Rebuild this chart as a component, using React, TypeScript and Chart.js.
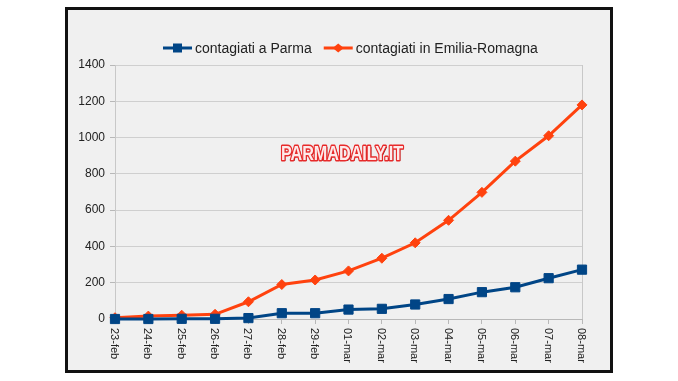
import React, { useEffect, useRef } from 'react';
import { Chart, registerables } from 'chart.js';
Chart.register(...registerables);

const categories = ['23-feb', '24-feb', '25-feb', '26-feb', '27-feb', '28-feb', '29-feb', '01-mar', '02-mar', '03-mar', '04-mar', '05-mar', '06-mar', '07-mar', '08-mar'];
const parma = [0, 0, 1, 1, 5, 32, 32, 52, 56, 80, 110, 148, 175, 225, 272];
const emilia = [7, 16, 21, 26, 95, 190, 215, 265, 335, 420, 544, 698, 870, 1010, 1180];
const seriesNames = ['contagiati a Parma', 'contagiati in Emilia-Romagna'];
const seriesColors = ['#004586', '#ff420e'];
const seriesMarkers = ['rect', 'rectRot'];
const yMin = 0;
const yMax = 1400;
const yStep = 200;
const watermark = 'PARMADAILY.IT';

const FONT = '"Liberation Sans", Arial, Helvetica, sans-serif';

function drawMarker(ctx: CanvasRenderingContext2D, style: string, x: number, y: number, color: string) {
  ctx.fillStyle = color;
  ctx.beginPath();
  if (style === 'rect') {
    ctx.rect(x - 4.5, y - 4.5, 9, 9);
  } else {
    ctx.moveTo(x - 5.5, y);
    ctx.lineTo(x, y - 4.5);
    ctx.lineTo(x + 5.5, y);
    ctx.lineTo(x, y + 4.5);
    ctx.closePath();
  }
  ctx.fill();
}

const customPlugin = {
  id: 'customDraw',
  afterDraw(chart: any) {
    const ctx: CanvasRenderingContext2D = chart.ctx;
    const xs = chart.scales.x;
    const area = chart.chartArea;
    ctx.save();
    // x tick labels rotated clockwise
    ctx.font = `11px ${FONT}`;
    ctx.fillStyle = '#222';
    ctx.textAlign = 'left';
    ctx.textBaseline = 'middle';
    xs.ticks.forEach((t: any, i: number) => {
      const x = xs.getPixelForTick(i);
      ctx.save();
      ctx.translate(x - 1, area.bottom + 9);
      ctx.rotate(Math.PI / 2);
      ctx.fillText(xs.getLabelForValue(t.value), 0, 0);
      ctx.restore();
    });
    // legend
    ctx.font = `14px ${FONT}`;
    ctx.textBaseline = 'middle';
    let lx = 95;
    const ly = 38;
    seriesNames.forEach((name, i) => {
      const color = seriesColors[i];
      ctx.strokeStyle = color;
      ctx.lineWidth = 3;
      ctx.beginPath();
      ctx.moveTo(lx, ly);
      ctx.lineTo(lx + 29, ly);
      ctx.stroke();
      drawMarker(ctx, seriesMarkers[i], lx + 14.5, ly, color);
      ctx.fillStyle = '#222';
      ctx.fillText(name, lx + 32, ly + 1);
      lx += 32 + ctx.measureText(name).width + 12;
    });
    // watermark
    ctx.save();
    ctx.translate(274, 144);
    ctx.scale(0.77, 1);
    ctx.font = `bold 21px ${FONT}`;
    ctx.textAlign = 'center';
    ctx.textBaseline = 'middle';
    ctx.lineJoin = 'round';
    ctx.fillStyle = '#6a0a0a';
    ctx.fillText(watermark, 1.5, 1.5);
    ctx.strokeStyle = '#e82a2a';
    ctx.lineWidth = 3;
    ctx.strokeText(watermark, 0, 0);
    ctx.fillStyle = '#fdeaea';
    ctx.fillText(watermark, 0, 0);
    ctx.restore();
    ctx.restore();
  },
};

export default function App() {
  const ref = useRef<HTMLCanvasElement | null>(null);
  useEffect(() => {
    if (!ref.current) return;
    Chart.defaults.font.family = FONT;
    const last = categories.length - 1;
    const chart = new Chart(ref.current, {
      type: 'line',
      data: {
        labels: categories,
        datasets: [
          {
            label: seriesNames[0],
            data: parma,
            borderColor: seriesColors[0],
            backgroundColor: seriesColors[0],
            borderWidth: 3,
            pointStyle: seriesMarkers[0] as any,
            pointRadius: 6.5,
            pointBorderWidth: 1,
            tension: 0,
            clip: false as any,
          },
          {
            label: seriesNames[1],
            data: emilia,
            borderColor: seriesColors[1],
            backgroundColor: seriesColors[1],
            borderWidth: 3,
            pointStyle: seriesMarkers[1] as any,
            pointRadius: 5,
            pointBorderWidth: 1,
            tension: 0,
            clip: false as any,
          },
        ],
      },
      options: {
        animation: false,
        responsive: false,
        maintainAspectRatio: false,
        layout: { padding: { top: 55, right: 28, left: 0, bottom: 0 } },
        plugins: { legend: { display: false }, tooltip: { enabled: false }, title: { display: false } },
        scales: {
          x: {
            offset: false,
            ticks: { display: false, autoSkip: false },
            grid: {
              drawOnChartArea: true,
              color: (c: any) => (c.index === 0 || c.index === last ? '#c8c8c8' : 'rgba(0,0,0,0)'),
              tickColor: '#b8b8b8',
              tickLength: 5,
            },
            border: { display: true, color: '#b8b8b8' },
            afterFit: (s: any) => { s.height = 51; },
          },
          y: {
            min: yMin,
            max: yMax,
            ticks: {
              stepSize: yStep,
              color: '#222',
              font: { size: 12, family: FONT },
              padding: 5,
              callback: (v: any) => String(v),
            },
            grid: { color: '#cfcfcf', tickColor: '#b8b8b8', tickLength: 5 },
            border: { display: true, color: '#c8c8c8' },
            afterFit: (s: any) => { s.width = 47; },
          },
        },
      },
      plugins: [customPlugin],
    });
    return () => chart.destroy();
  }, []);
  return (
    <div style={{ position: 'fixed', left: 0, top: 0, width: 678, height: 381, background: '#ffffff' }}>
      <div
        style={{
          position: 'absolute',
          left: 65,
          top: 7,
          width: 542,
          height: 360,
          border: '3px solid #111',
          background: '#f0f0f0',
        }}
      >
        <canvas ref={ref} width={542} height={360} style={{ display: 'block', width: 542, height: 360 }} />
      </div>
    </div>
  );
}
